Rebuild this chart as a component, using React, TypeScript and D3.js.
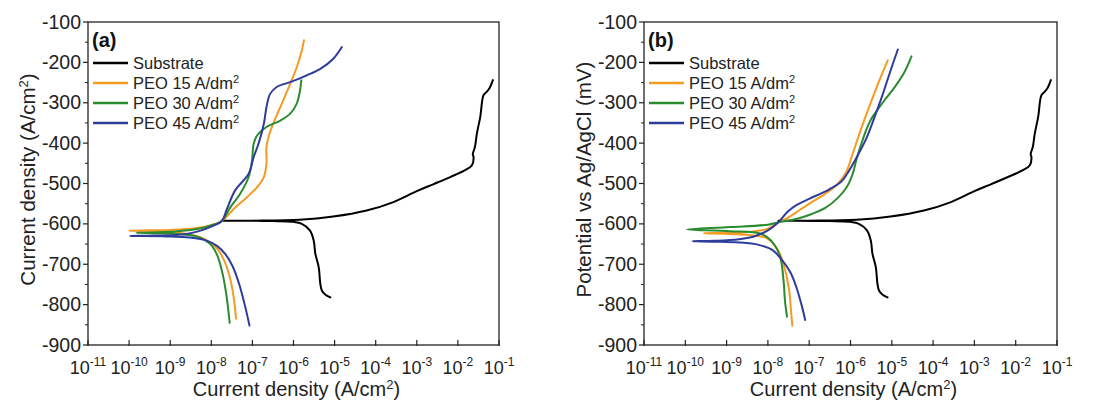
import React from "react";
import * as d3 from "d3";

type Pt = [number, number];

// current density (A/cm2), potential (mV)
const substrate: Pt[] = [
  [7.9e-6, -782], [5.9e-6, -775], [4.9e-6, -765], [4.5e-6, -749], [4.1e-6, -707],
  [3.4e-6, -674], [3.1e-6, -641], [2.5e-6, -616], [1.6e-6, -600], [1e-6, -595],
  [3e-7, -593], [5e-8, -592], [1.8e-8, -592], [1e-7, -592], [1.4e-6, -590],
  [9.3e-6, -582], [6e-5, -567], [2.7e-4, -546], [1e-3, -519], [2.5e-3, -502],
  [6.5e-3, -484], [1.5e-2, -467], [2.2e-2, -455], [2.4e-2, -434], [2.3e-2, -428],
  [2.6e-2, -409], [2.9e-2, -376], [3.5e-2, -335], [4.2e-2, -281], [5e-2, -273],
  [6e-2, -262], [7.1e-2, -244],
];

const peo15a: Pt[] = [
  [4e-8, -835], [3.7e-8, -800], [3.3e-8, -765], [2.7e-8, -725], [2e-8, -688],
  [1.4e-8, -662], [9e-9, -645], [5e-9, -632], [2e-9, -623], [6e-10, -618],
  [1e-10, -617], [3e-10, -616], [1e-9, -615], [4e-9, -611], [1e-8, -603],
  [1.8e-8, -593], [3.5e-8, -563], [7.4e-8, -534], [1.3e-7, -509], [1.9e-7, -484],
  [2.2e-7, -451], [2.2e-7, -410], [2.6e-7, -377], [3.2e-7, -352], [5.2e-7, -302],
  [8.3e-7, -253], [1.2e-6, -212], [1.6e-6, -170], [1.8e-6, -145],
];

const peo30a: Pt[] = [
  [2.8e-8, -845], [2.5e-8, -800], [2.2e-8, -760], [1.8e-8, -715], [1.4e-8, -678],
  [1.05e-8, -655], [7e-9, -640], [4e-9, -630], [1.5e-9, -625], [5e-10, -623],
  [1.5e-10, -622], [5e-10, -621], [2e-9, -617], [6e-9, -610], [1.2e-8, -601],
  [1.8e-8, -593], [2.9e-8, -559], [5e-8, -526], [8.1e-8, -484], [9.8e-8, -443],
  [1.07e-7, -402], [1.3e-7, -381], [2.2e-7, -360], [4.8e-7, -344], [8.3e-7, -327],
  [1.2e-6, -302], [1.4e-6, -277], [1.55e-6, -244],
];

const peo45a: Pt[] = [
  [8.5e-8, -852], [6.5e-8, -800], [4.8e-8, -750], [3.3e-8, -705], [2.2e-8, -675],
  [1.4e-8, -655], [8e-9, -642], [3e-9, -634], [8e-10, -631], [1.05e-10, -630],
  [4e-10, -629], [2e-9, -626], [5e-9, -618], [1.1e-8, -605], [1.8e-8, -593],
  [2.4e-8, -563], [3.8e-8, -517], [8.1e-8, -476], [1.07e-7, -435], [1.4e-7, -402],
  [1.9e-7, -352], [2.2e-7, -311], [2.7e-7, -278], [3.9e-7, -261], [8.3e-7, -249],
  [2.1e-6, -232], [4.5e-6, -216], [9.3e-6, -191], [1.5e-5, -162],
];

const peo15b: Pt[] = [
  [3.9e-8, -852], [3.7e-8, -825], [3.2e-8, -758], [2.4e-8, -700], [1.8e-8, -667],
  [1e-8, -637], [2.8e-9, -627], [2.8e-10, -623], [2.8e-9, -621], [1e-8, -612],
  [1.8e-8, -596], [3e-8, -585], [6e-8, -565], [1.2e-7, -545], [2.5e-7, -525],
  [5e-7, -500], [8e-7, -470], [1.1e-6, -430], [1.6e-6, -380], [2.5e-6, -325],
  [4e-6, -270], [6e-6, -225], [8e-6, -195],
];

const peo30b: Pt[] = [
  [2.9e-8, -830], [2.6e-8, -792], [2.4e-8, -742], [2e-8, -683], [1.4e-8, -650],
  [7e-9, -625], [1.2e-9, -618], [1.1e-10, -614], [1.2e-9, -608], [1e-8, -602],
  [1.8e-8, -596], [4e-8, -590], [1e-7, -578], [2.5e-7, -560], [5e-7, -535],
  [8e-7, -510], [1.1e-6, -480], [1.4e-6, -440], [2e-6, -390], [3e-6, -345],
  [6e-6, -300], [1.2e-5, -260], [2e-5, -225], [3e-5, -185],
];

const peo45b: Pt[] = [
  [8e-8, -838], [6.5e-8, -800], [5e-8, -760], [3.5e-8, -720], [2.2e-8, -690],
  [1.3e-8, -665], [6e-9, -652], [2e-9, -646], [5e-10, -644], [1.5e-10, -643],
  [5e-10, -642], [2e-9, -638], [5e-9, -630], [1e-8, -616], [1.8e-8, -596],
  [3e-8, -570], [5e-8, -553], [1e-7, -538], [3e-7, -515], [6e-7, -495],
  [9e-7, -470], [1.5e-6, -430], [2.5e-6, -385], [4e-6, -330], [6e-6, -280],
  [9e-6, -225], [1.4e-5, -168],
];

const decades = [-11, -10, -9, -8, -7, -6, -5, -4, -3, -2, -1];
const yTicks = [-100, -200, -300, -400, -500, -600, -700, -800, -900];
const legendNames = ["Substrate", "PEO 15 A/dm", "PEO 30 A/dm", "PEO 45 A/dm"];
const colors = ["#000000", "#f59b22", "#2b8c2f", "#2e3c9c"];

const FONT = "'Liberation Sans', Arial, sans-serif";
const TOP = 22;
const BOTTOM = 345;

function Panel(props: {
  left: number;
  right: number;
  tag: string;
  yTitle: React.ReactNode;
  titleX: number;
  series: Pt[][];
}) {
  const { left, right, tag, yTitle, titleX, series } = props;
  const x = d3.scaleLog().domain([1e-11, 1e-1]).range([left, right]);
  const y = d3.scaleLinear().domain([-900, -100]).range([BOTTOM, TOP]);
  const ln = d3
    .line<Pt>()
    .x((d) => x(d[0]))
    .y((d) => y(d[1]))
    .curve(d3.curveCatmullRom.alpha(0.5));

  const minor = x.ticks().filter((t) => {
    const l = Math.log10(t);
    return Math.abs(l - Math.round(l)) > 1e-6;
  });
  const yMinor = d3.range(-850, -100, 100);

  return (
    <g>
      {/* frame */}
      <rect x={left} y={TOP} width={right - left} height={BOTTOM - TOP} fill="none" stroke="#222" strokeWidth={1.3} />
      {/* y ticks */}
      {yTicks.map((t) => (
        <g key={t}>
          <line x1={left - 5} x2={left} y1={y(t)} y2={y(t)} stroke="#222" strokeWidth={1.2} />
          <text x={left - 7} y={y(t) + 6.5} textAnchor="end" fontSize={19.5} fill="#222">
            {t}
          </text>
        </g>
      ))}
      {yMinor.map((t) => (
        <line key={t} x1={left - 3} x2={left} y1={y(t)} y2={y(t)} stroke="#222" strokeWidth={1} />
      ))}
      {/* x ticks */}
      {decades.map((d) => (
        <g key={d}>
          <line x1={x(Math.pow(10, d))} x2={x(Math.pow(10, d))} y1={BOTTOM + 1} y2={BOTTOM - 5} stroke="#222" strokeWidth={1.2} />
          <text x={x(Math.pow(10, d))} y={374} textAnchor="middle" fontSize={18} fill="#222">
            10
            <tspan dy={-8} fontSize={12}>
              {d}
            </tspan>
          </text>
        </g>
      ))}
      {minor.map((t, i) => (
        <line key={i} x1={x(t)} x2={x(t)} y1={BOTTOM} y2={BOTTOM - 3} stroke="#222" strokeWidth={1} />
      ))}
      {/* curves */}
      {series.map((s, i) => (
        <path key={i} d={ln(s) || ""} fill="none" stroke={colors[i]} strokeWidth={2} strokeLinejoin="round" strokeLinecap="round" />
      ))}
      {/* panel tag */}
      <text x={left + 4} y={47} fontSize={20} fontWeight="bold" fill="#111">
        {tag}
      </text>
      {/* legend */}
      {legendNames.map((n, i) => (
        <g key={n}>
          <line x1={left + 5} x2={left + 40} y1={63 + i * 20} y2={63 + i * 20} stroke={colors[i]} strokeWidth={2.5} />
          <text x={left + 45} y={69 + i * 20} fontSize={16.5} fill="#222">
            {n}
            {i > 0 ? (
              <tspan dy={-6} fontSize={11}>
                2
              </tspan>
            ) : null}
          </text>
        </g>
      ))}
      {/* x title */}
      <text x={(left + right) / 2 + 3} y={396} textAnchor="middle" fontSize={20} fill="#222">
        Current density (A/cm
        <tspan dy={-7} fontSize={13}>
          2
        </tspan>
        <tspan dy={7}>)</tspan>
      </text>
      {/* y title */}
      <text
        transform={`translate(${titleX},${(TOP + BOTTOM) / 2 - 4}) rotate(-90)`}
        textAnchor="middle"
        fontSize={20.5}
        fill="#222"
      >
        {yTitle}
      </text>
    </g>
  );
}

export default function App() {
  return (
    <svg
      width={1107}
      height={403}
      style={{ position: "absolute", left: 0, top: 0, background: "#fff", fontFamily: FONT }}
    >
      <Panel
        left={88}
        right={499}
        tag="(a)"
        titleX={35}
        yTitle={
          <>
            Current density (A/cm
            <tspan dy={-7} fontSize={13}>
              2
            </tspan>
            <tspan dy={7}>)</tspan>
          </>
        }
        series={[substrate, peo15a, peo30a, peo45a]}
      />
      <Panel
        left={644}
        right={1057}
        tag="(b)"
        titleX={591}
        yTitle={"Potential vs Ag/AgCl (mV)"}
        series={[substrate, peo15b, peo30b, peo45b]}
      />
    </svg>
  );
}
